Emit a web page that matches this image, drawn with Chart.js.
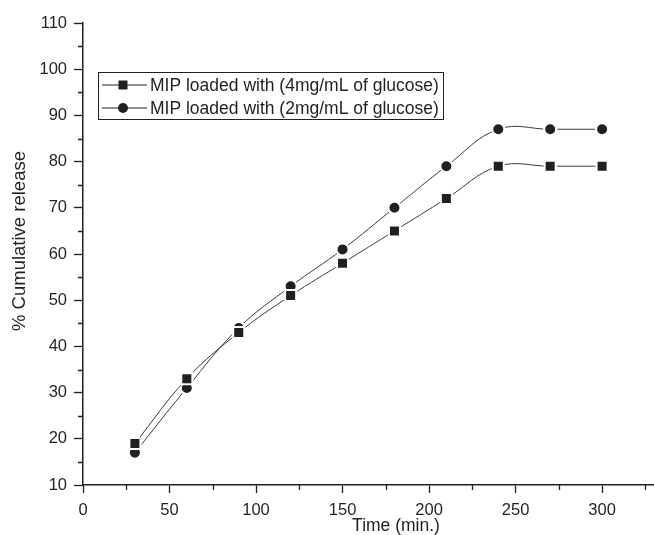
<!DOCTYPE html>
<html lang="en">
<head>
  <meta charset="UTF-8" />
  <title>Cumulative release</title>
  <style>
    html, body { margin: 0; padding: 0; background: #fff; }
    #wrap { width: 654px; height: 535px; position: relative; }
  </style>
</head>
<body>
  <div id="wrap"><canvas id="chartCanvas"></canvas></div>
  <script src="https://cdn.jsdelivr.net/npm/chart.js"></script>
  <script>
    const times = [30, 60, 90, 120, 150, 180, 210, 240, 270, 300];
    const release4mg = [19, 33, 43, 51, 58, 65, 72, 79, 79, 79];
    const release2mg = [17, 31, 44, 53, 61, 70, 79, 87, 87, 87];
    const seriesNames = ['MIP loaded with (4mg/mL of glucose)', 'MIP loaded with (2mg/mL of glucose)'];
    const xTitle = 'Time (min.)';
    const yTitle = '% Cumulative release';
    const xMinorTicks = [25, 75, 125, 175, 225, 275, 325];
    const yMinorTicks = [15, 25, 35, 45, 55, 65, 75, 85, 95, 105];

    const ink = '#231f20';
    const font = "'Liberation Sans', Arial, sans-serif";

    // small ticks between the labelled ones, plus both axis titles
    const axisExtras = {
      id: 'axisExtras',
      afterDraw(chart) {
        const { ctx, scales: { x, y } } = chart;
        ctx.save();
        ctx.strokeStyle = ink;
        ctx.lineWidth = 1.3;
        ctx.beginPath();
        xMinorTicks.forEach(v => {
          const px = Math.round(x.getPixelForValue(v)) + 0.5;
          ctx.moveTo(px, y.bottom);
          ctx.lineTo(px, y.bottom + 5);
        });
        yMinorTicks.forEach(v => {
          const py = Math.round(y.getPixelForValue(v)) + 0.5;
          ctx.moveTo(x.left, py);
          ctx.lineTo(x.left - 5, py);
        });
        ctx.stroke();

        ctx.fillStyle = ink;
        ctx.textAlign = 'center';
        ctx.textBaseline = 'middle';
        ctx.font = '17.5px ' + font;
        ctx.fillText(xTitle, 396, 526);

        ctx.translate(20, 241);
        ctx.rotate(-Math.PI / 2);
        ctx.font = '18.5px ' + font;
        ctx.fillText(yTitle, 0, 0);
        ctx.restore();
      }
    };

    // boxed legend: line - marker - line, then the label
    const boxLegend = {
      id: 'boxLegend',
      afterDraw(chart) {
        const ctx = chart.ctx;
        ctx.save();
        ctx.strokeStyle = ink;
        ctx.lineWidth = 1;
        ctx.strokeRect(98.5, 72.5, 345, 47);
        ctx.font = '17.5px ' + font;
        ctx.fillStyle = ink;
        ctx.textBaseline = 'middle';
        chart.data.datasets.forEach((ds, i) => {
          const yy = 85 + i * 23;
          ctx.beginPath();
          ctx.moveTo(102, yy);
          ctx.lineTo(147, yy);
          ctx.lineWidth = 1;
          ctx.strokeStyle = ink;
          ctx.stroke();
          ctx.beginPath();
          if (ds.pointStyle === 'rect') {
            ctx.rect(118.5, yy - 4.5, 9, 9);
          } else {
            ctx.arc(123, yy, 5, 0, Math.PI * 2);
          }
          ctx.fill();
          ctx.fillText(ds.label, 150, yy + 1);
        });
        ctx.restore();
      }
    };

    new Chart(document.getElementById('chartCanvas'), {
      type: 'line',
      data: {
        labels: times,
        datasets: [
          {
            label: seriesNames[0],
            data: times.map((t, i) => ({ x: t, y: release4mg[i] })),
            borderColor: '#3a3a3a',
            borderWidth: 1,
            tension: 0.4,
            pointStyle: 'rect',
            pointRadius: 7.8,
            pointBackgroundColor: ink,
            pointBorderColor: '#fff',
            pointBorderWidth: 2
          },
          {
            label: seriesNames[1],
            data: times.map((t, i) => ({ x: t, y: release2mg[i] })),
            borderColor: '#3a3a3a',
            borderWidth: 1,
            tension: 0.4,
            pointStyle: 'circle',
            pointRadius: 6,
            pointBackgroundColor: ink,
            pointBorderColor: '#fff',
            pointBorderWidth: 2
          }
        ]
      },
      options: {
        responsive: true,
        maintainAspectRatio: false,
        animation: false,
        layout: { autoPadding: false, padding: { top: 23, right: 0, left: 0, bottom: 0 } },
        plugins: {
          legend: { display: false },
          tooltip: { enabled: false }
        },
        scales: {
          x: {
            type: 'linear',
            min: 0,
            max: 330,
            afterFit(s) { s.height = 50; s.paddingLeft = 0; s.paddingRight = 0; },
            ticks: { stepSize: 50, includeBounds: false, color: ink, padding: 8, font: { family: font, size: 16.5 } },
            grid: { drawOnChartArea: false, drawTicks: true, tickLength: 8, tickColor: ink, tickWidth: 1.3 },
            border: { color: ink, width: 1.5 }
          },
          y: {
            min: 10,
            max: 110,
            afterFit(s) { s.width = 83; s.paddingTop = 0; s.paddingBottom = 0; },
            ticks: { stepSize: 10, color: ink, padding: 7, font: { family: font, size: 16.5 } },
            grid: { drawOnChartArea: false, drawTicks: true, tickLength: 9, tickColor: ink, tickWidth: 1.3 },
            border: { color: ink, width: 1.5 }
          }
        }
      },
      plugins: [axisExtras, boxLegend]
    });
  </script>
</body>
</html>
